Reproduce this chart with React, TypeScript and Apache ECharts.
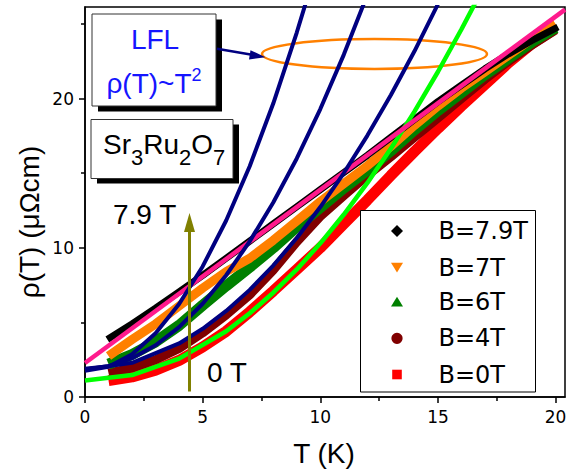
import React, { useEffect, useRef } from "react";
import * as echarts from "echarts";

// ---- axis ticks ----
const xTicks = [0, 5, 10, 15, 20];
const xMinorTicks = [2.5, 7.5, 12.5, 17.5];
const yTicks = [0, 10, 20];
const yMinorTicks = [5, 15, 25];
const xMax = 20.4;
const yMax = 26.14;

// ---- measured data bands [T (K), rho (µΩcm)] ----
const rhoB79: [number, number][] = [[0.95, 3.85], [2, 4.9], [3, 5.95], [4, 7.05], [5, 8.15], [6, 9.3], [7, 10.45], [8, 11.6], [9, 12.75], [10, 13.9], [11, 15.05], [12, 16.2], [13, 17.4], [14, 18.6], [15, 19.8], [16, 20.9], [17, 22.0], [18, 23.0], [19, 23.9], [20.1, 24.8]];
const rhoB7: [number, number][] = [[1, 2.75], [2, 3.85], [3, 4.9], [4, 6.1], [5, 7.3], [6, 8.4], [7, 9.3], [8, 10.5], [9, 11.8], [10, 13.1], [11, 14.3], [12, 15.5], [13, 16.8], [14, 18.2], [15, 19.5], [16, 20.7], [17, 21.8], [18, 22.9], [19, 24.0], [20, 25.0]];
const rhoB6: [number, number][] = [[1, 2.2], [2, 2.85], [3, 3.7], [4, 4.8], [5, 6.15], [6, 7.45], [7, 8.7], [8, 10.0], [9, 11.4], [10, 12.7], [11, 14.0], [12, 15.2], [13, 16.5], [14, 17.9], [15, 19.2], [16, 20.4], [17, 21.6], [18, 22.7], [19, 23.8], [20, 24.75]];
const rhoB4: [number, number][] = [[1, 1.6], [2, 1.95], [3, 2.5], [4, 3.25], [5, 4.3], [6, 5.5], [7, 6.85], [8, 8.5], [9, 10.4], [10, 12.1], [11, 13.5], [12, 14.85], [13, 16.1], [14, 17.4], [15, 18.7], [16, 20.0], [17, 21.3], [18, 22.5], [19, 23.6], [20, 24.6]];
const rhoB0: [number, number][] = [[1, 1.1], [2, 1.35], [3, 1.8], [4, 2.45], [5, 3.35], [6, 4.4], [7, 5.7], [8, 7.1], [9, 8.55], [10, 10.0], [11, 11.6], [12, 13.2], [13, 14.85], [14, 16.45], [15, 18.0], [16, 19.5], [17, 20.95], [18, 22.4], [19, 23.7], [19.9, 24.6]];

// ---- fit curves ----
const fitNavy1: [number, number][] = [[0, 1.75], [1, 2.03], [2, 2.87], [3, 4.27], [4, 6.23], [5, 8.75], [6, 11.83], [7, 15.47], [8, 19.67], [9, 24.43], [9.5, 27.02]];
const fitNavy2: [number, number][] = [[0, 1.9], [1, 2.07], [2, 2.6], [3, 3.47], [4, 4.68], [5, 6.25], [6, 8.16], [7, 10.43], [8, 13.04], [9, 15.99], [10, 19.3], [11, 22.95], [12, 26.96]];
const fitNavy3: [number, number][] = [[0, 1.85], [2, 2.29], [4, 3.59], [5, 4.57], [6, 5.77], [7, 7.18], [8, 8.81], [9, 10.66], [10, 12.73], [11, 15.01], [12, 17.52], [13, 20.24], [14, 23.17], [15, 26.33]];
const fitGreen: [number, number][] = [[0, 1.1], [2, 1.47], [4, 2.57], [6, 4.41], [7, 5.61], [8, 6.99], [9, 8.55], [10, 10.3], [11, 12.23], [12, 14.35], [13, 16.65], [14, 19.13], [15, 21.8], [16, 24.65], [16.6, 26.45]];
const fitLinear: [number, number][] = [[0, 2.28], [20.4, 25.96]];

const legendNames = ["B=7.9T", "B=7T", "B=6T", "B=4T", "B=0T"];
const legendColors = ["#000000", "#ff8000", "#008000", "#800000", "#ff0000"];

const SANS = "Liberation Sans";
const DV = "DejaVu Sans";

function dataLine(name: string, data: [number, number][], color: string, width: number) {
  return {
    type: "line",
    name,
    data,
    color,
    symbol: "none",
    showSymbol: false,
    silent: true,
    lineStyle: { color, width },
    itemStyle: { color, borderWidth: 0 },
    emphasis: { disabled: true },
    z: 2,
  };
}

// legend box layout (pixels)
const LG = { x: 360.5, y: 210.5, w: 175, h: 181.5, iconX: 397, textX: 438.5, rows: [231, 267.5, 302, 338.3, 374.5] };

function legendGraphics() {
  const r = LG.rows;
  const cx = LG.iconX;
  const els: any[] = [
    { type: "rect", z: 100, shape: { x: LG.x, y: LG.y, width: LG.w, height: LG.h }, style: { fill: "#fff", stroke: "#000", lineWidth: 1 } },
    { type: "polygon", z: 101, shape: { points: [[cx, r[0] - 6], [cx + 6, r[0]], [cx, r[0] + 6], [cx - 6, r[0]]] }, style: { fill: legendColors[0] } },
    { type: "polygon", z: 101, shape: { points: [[cx - 6, r[1] - 4.7], [cx + 6, r[1] - 4.7], [cx, r[1] + 5]] }, style: { fill: legendColors[1] } },
    { type: "polygon", z: 101, shape: { points: [[cx, r[2] - 5.3], [cx + 6, r[2] + 4.5], [cx - 6, r[2] + 4.5]] }, style: { fill: legendColors[2] } },
    { type: "circle", z: 101, shape: { cx, cy: r[3], r: 5.6 }, style: { fill: legendColors[3] } },
    { type: "rect", z: 101, shape: { x: cx - 4.8, y: r[4] - 4.8, width: 9.6, height: 9.6 }, style: { fill: legendColors[4] } },
  ];
  legendNames.forEach((n, i) => {
    els.push({ type: "text", z: 101, x: LG.textX, y: r[i], style: { text: n, fontFamily: DV, fontSize: 24, fill: "#000", align: "left", verticalAlign: "middle" } });
  });
  return els;
}

export default function App() {
  const ref = useRef<HTMLDivElement>(null);
  useEffect(() => {
    const chart = echarts.init(ref.current!, null, { renderer: "svg" });
    const axisLineStyle = { color: "#000", width: 1.5 };
    const option: any = {
      animation: false,
      backgroundColor: "#fff",
      grid: {
        left: 85,
        top: 7,
        width: 480,
        height: 390,
        show: true,
        borderColor: "#000",
        borderWidth: 1.5,
        backgroundColor: "transparent",
        containLabel: false,
        outerBoundsMode: "none",
      },
      xAxis: [
        {
          type: "value",
          position: "bottom",
          min: 0,
          max: xMax,
          interval: 5,
          axisLine: { show: true, onZero: false, lineStyle: axisLineStyle },
          axisTick: { show: true, inside: false, length: 6, lineStyle: axisLineStyle, customValues: xTicks },
          axisLabel: {
            customValues: xTicks,
            fontFamily: DV,
            fontSize: 17,
            color: "#000",
            margin: 11,
            formatter: (v: number) => (Math.abs(v % 5) < 1e-9 ? String(v) : ""),
          },
          splitLine: { show: false },
        },
        {
          type: "value",
          position: "bottom",
          min: 0,
          max: xMax,
          interval: 2.5,
          axisLine: { show: false, onZero: false },
          axisTick: { show: true, inside: false, length: 4, lineStyle: axisLineStyle, customValues: xMinorTicks },
          axisLabel: { show: false },
          splitLine: { show: false },
        },
      ],
      yAxis: [
        {
          type: "value",
          position: "left",
          min: 0,
          max: yMax,
          interval: 10,
          axisLine: { show: true, onZero: false, lineStyle: axisLineStyle },
          axisTick: { show: true, inside: false, length: 6, lineStyle: axisLineStyle, customValues: yTicks },
          axisLabel: {
            customValues: yTicks,
            fontFamily: DV,
            fontSize: 17,
            color: "#000",
            margin: 11,
            formatter: (v: number) => (Math.abs(v % 10) < 1e-9 ? String(v) : ""),
          },
          splitLine: { show: false },
        },
        {
          type: "value",
          position: "left",
          min: 0,
          max: yMax,
          interval: 5,
          axisLine: { show: false, onZero: false },
          axisTick: { show: true, inside: false, length: 4, lineStyle: axisLineStyle, customValues: yMinorTicks },
          axisLabel: { show: false },
          splitLine: { show: false },
        },
      ],
      series: [
        dataLine(legendNames[4], rhoB0, legendColors[4], 11),
        dataLine(legendNames[3], rhoB4, legendColors[3], 9),
        dataLine(legendNames[2], rhoB6, legendColors[2], 11),
        dataLine(legendNames[1], rhoB7, legendColors[1], 9),
        dataLine(legendNames[0], rhoB79, legendColors[0], 7),
        dataLine("fit0T", fitGreen, "#00ff00", 4.5),
        dataLine("fitLin", fitLinear, "#ff1a8c", 4.5),
        dataLine("fitA", fitNavy1, "#000080", 4),
        dataLine("fitB", fitNavy2, "#000080", 4),
        dataLine("fitC", fitNavy3, "#000080", 4),
      ],
      graphic: [
        { type: "ellipse", z: 1, shape: { cx: 374.5, cy: 54, rx: 112.5, ry: 15 }, style: { fill: "none", stroke: "#ff8000", lineWidth: 2.5 } },
        // LFL box
        { type: "rect", z: 100, shape: { x: 98, y: 19.5, width: 124, height: 92 }, style: { fill: "#000" } },
        { type: "rect", z: 101, shape: { x: 92, y: 14, width: 124, height: 92 }, style: { fill: "#fff", stroke: "#333", lineWidth: 1 } },
        { type: "text", z: 102, x: 155, y: 39.5, style: { text: "LFL", fontFamily: SANS, fontSize: 28, fill: "#1515ff", align: "center", verticalAlign: "middle" } },
        {
          type: "text", z: 102, x: 154, y: 66.3,
          style: {
            text: "{a|ρ(T)~T}{s|2}", align: "center", verticalAlign: "top", fill: "#1515ff",
            rich: {
              a: { fontFamily: SANS, fontSize: 28, fill: "#1515ff", verticalAlign: "bottom", lineHeight: 31 },
              s: { fontFamily: SANS, fontSize: 18, fill: "#1515ff", verticalAlign: "top", lineHeight: 18 },
            },
          },
        },
        // Sr3Ru2O7 box
        { type: "rect", z: 100, shape: { x: 97, y: 124.5, width: 142, height: 59 }, style: { fill: "#000" } },
        { type: "rect", z: 101, shape: { x: 91, y: 119.5, width: 142, height: 59 }, style: { fill: "#fff", stroke: "#333", lineWidth: 1 } },
        {
          type: "text", z: 102, x: 103, y: 130,
          style: {
            text: "{a|Sr}{b|3}{a|Ru}{b|2}{a|O}{b|7}", align: "left", verticalAlign: "top", fill: "#000",
            rich: {
              a: { fontFamily: SANS, fontSize: 28, fill: "#000", verticalAlign: "top", lineHeight: 28 },
              b: { fontFamily: SANS, fontSize: 22, fill: "#000", verticalAlign: "bottom", lineHeight: 38 },
            },
          },
        },
        // navy arrow
        { type: "line", z: 100, shape: { x1: 217, y1: 48.7, x2: 252, y2: 54.8 }, style: { stroke: "#000080", lineWidth: 2.5 } },
        { type: "polygon", z: 100, shape: { points: [[265.5, 57.2], [250.5, 50.2], [249, 59.5]] }, style: { fill: "#000080" } },
        // olive arrow
        { type: "line", z: 100, shape: { x1: 189.5, y1: 391.5, x2: 189.5, y2: 228 }, style: { stroke: "#808000", lineWidth: 3 } },
        { type: "polygon", z: 100, shape: { points: [[189.5, 213], [184, 232], [195, 232]] }, style: { fill: "#808000" } },
        // annotations
        { type: "text", z: 100, x: 113, y: 214.5, style: { text: "7.9 T", fontFamily: SANS, fontSize: 28, fill: "#000", align: "left", verticalAlign: "middle" } },
        { type: "text", z: 100, x: 207, y: 372, style: { text: "0 T", fontFamily: SANS, fontSize: 28, fill: "#000", align: "left", verticalAlign: "middle" } },
        // axis titles
        { type: "text", z: 100, x: 324, y: 453, style: { text: "T (K)", fontFamily: SANS, fontSize: 28, fill: "#000", align: "center", verticalAlign: "middle" } },
        { type: "text", z: 100, x: 29, y: 222, rotation: Math.PI / 2, style: { text: "ρ(T) (μΩcm)", fontFamily: SANS, fontSize: 28, fill: "#000", align: "center", verticalAlign: "middle" } },
        ...legendGraphics(),
      ],
    };
    chart.setOption(option);
    return () => chart.dispose();
  }, []);
  return (
    <div
      ref={ref}
      style={{ position: "fixed", left: 0, top: 0, width: 568, height: 472, background: "#fff" }}
    />
  );
}
